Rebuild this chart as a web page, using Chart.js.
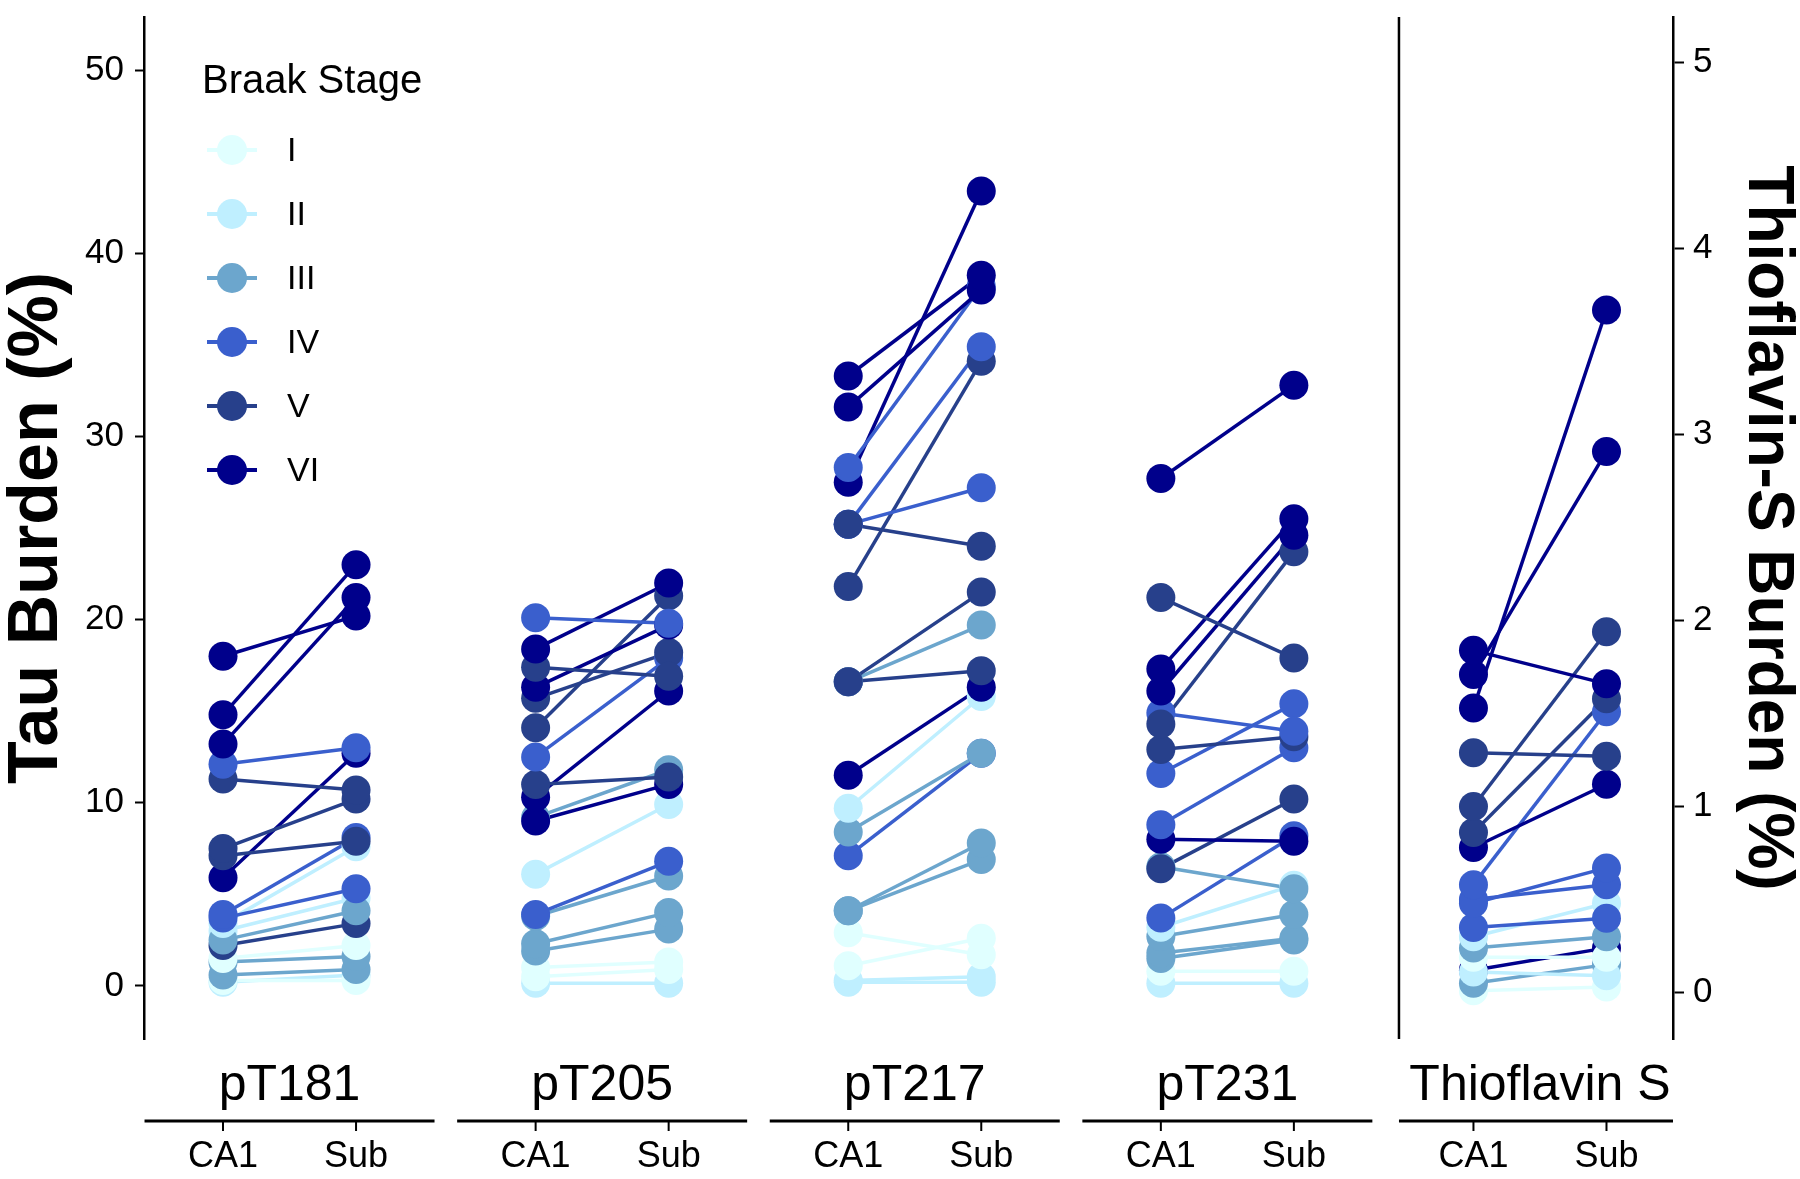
<!DOCTYPE html>
<html>
<head>
<meta charset="utf-8">
<script src="https://cdn.jsdelivr.net/npm/chart.js@4.4.1/dist/chart.umd.min.js"></script>
<style>
  html, body { margin: 0; padding: 0; background: #fff; }
  #wrap { width: 1800px; height: 1179px; }
</style>
</head>
<body>
<div id="wrap"><canvas id="chart" width="1800" height="1179"></canvas></div>
<script>
// Braak stage colour scale
const stages = ['I', 'II', 'III', 'IV', 'V', 'VI'];
const stageColors = ['#E0FFFF', '#BFEFFF', '#6CA6CD', '#3A5FCD', '#27408B', '#00008B'];

const groupNames = ['pT181', 'pT205', 'pT217', 'pT231', 'Thioflavin S'];
const regions = ['CA1', 'Sub'];
const tauTicks = [0, 10, 20, 30, 40, 50];
const thsTicks = [0, 1, 2, 3, 4, 5];

// one entry per case: stage, burden in CA1, burden in subiculum
const pT181Stage = ['VI', 'VI', 'VI', 'IV', 'V', 'V', 'V', 'VI', 'IV', 'IV', 'II', 'III', 'V', 'II', 'I', 'III', 'III', 'I', 'II'];
const pT181CA1 = [18.0, 14.8, 13.2, 12.1, 11.3, 7.5, 7.1, 5.9, 3.9, 3.7, 3.4, 2.5, 2.2, 3.0, 1.5, 1.3, 0.6, 0.3, 0.2];
const pT181Sub = [20.2, 23.0, 21.2, 13.0, 10.7, 10.2, 7.9, 12.7, 8.1, 5.3, 7.6, 4.1, 3.4, 4.8, 2.2, 1.6, 0.9, 0.3, 0.6];

const pT205Stage = ['IV', 'VI', 'V', 'VI', 'V', 'V', 'IV', 'V', 'VI', 'VI', 'III', 'II', 'IV', 'III', 'III', 'III', 'I', 'I', 'II'];
const pT205CA1 = [20.1, 18.4, 17.4, 16.3, 15.7, 14.1, 12.5, 11.0, 10.3, 9.0, 9.2, 6.1, 3.9, 3.8, 2.3, 1.9, 1.0, 0.5, 0.15];
const pT205Sub = [19.8, 22.0, 16.9, 19.7, 18.2, 21.3, 17.9, 11.4, 16.1, 11.0, 11.8, 9.9, 6.8, 6.0, 4.0, 3.1, 1.3, 0.9, 0.15];

const pT217Stage = ['VI', 'VI', 'IV', 'VI', 'V', 'IV', 'IV', 'V', 'V', 'III', 'V', 'VI', 'II', 'III', 'IV', 'III', 'III', 'I', 'I', 'II', 'II'];
const pT217CA1 = [33.3, 31.6, 28.3, 27.5, 25.2, 25.2, 25.2, 21.8, 16.6, 16.6, 16.6, 11.5, 9.7, 8.4, 7.1, 4.1, 4.1, 2.9, 1.1, 0.2, 0.3];
const pT217Sub = [38.8, 38.0, 38.2, 43.4, 24.0, 34.9, 27.2, 34.1, 21.5, 19.7, 17.2, 16.3, 15.8, 12.7, 12.7, 7.8, 6.9, 1.7, 2.6, 0.2, 0.5];

const pT231Stage = ['VI', 'V', 'VI', 'VI', 'V', 'IV', 'V', 'IV', 'IV', 'VI', 'V', 'III', 'IV', 'II', 'III', 'III', 'III', 'I', 'II'];
const pT231CA1 = [27.7, 21.2, 17.3, 16.1, 14.3, 14.9, 12.9, 11.6, 8.8, 8.0, 6.4, 6.5, 3.7, 3.2, 2.7, 1.8, 1.5, 0.8, 0.15];
const pT231Sub = [32.8, 17.9, 25.5, 24.6, 23.7, 13.9, 13.6, 15.4, 13.0, 7.9, 10.2, 5.3, 8.2, 5.5, 3.9, 2.6, 2.5, 0.8, 0.15];

const thsStage = ['VI', 'VI', 'VI', 'V', 'V', 'V', 'VI', 'IV', 'IV', 'IV', 'IV', 'II', 'III', 'I', 'II', 'III', 'I', 'VI'];
const thsCA1 = [1.84, 1.71, 1.53, 1.29, 1.00, 0.86, 0.78, 0.58, 0.48, 0.50, 0.35, 0.30, 0.24, 0.19, 0.11, 0.05, 0.01, 0.12];
const thsSub = [1.66, 2.91, 3.67, 1.27, 1.94, 1.58, 1.12, 1.51, 0.67, 0.58, 0.40, 0.48, 0.30, 0.19, 0.09, 0.15, 0.03, 0.24];

// layout of the x axis: CA1 at g * GROUP_GAP, Sub one unit to the right
const GROUP_GAP = 2.35;
const X_MIN = -0.594;
const X_MAX = 10.9;
const DIVIDER_X = 4 * GROUP_GAP - 0.56;

const FONT = '"Liberation Sans", Arial, Helvetica, sans-serif';

const groups = [
    { stage: pT181Stage, ca1: pT181CA1, sub: pT181Sub, axis: 'y' },
    { stage: pT205Stage, ca1: pT205CA1, sub: pT205Sub, axis: 'y' },
    { stage: pT217Stage, ca1: pT217CA1, sub: pT217Sub, axis: 'y' },
    { stage: pT231Stage, ca1: pT231CA1, sub: pT231Sub, axis: 'y' },
    { stage: thsStage, ca1: thsCA1, sub: thsSub, axis: 'y2' }
];

function colorOf(stage) {
    return stageColors[stages.indexOf(stage)];
}

function buildDatasets() {
    const datasets = [];
    groups.forEach((grp, g) => {
        const xCA1 = g * GROUP_GAP;
        const xSub = g * GROUP_GAP + 1;
        // lines first (drawn underneath)
        grp.stage.forEach((st, i) => {
            datasets.push({
                type: 'line',
                data: [{ x: xCA1, y: grp.ca1[i] }, { x: xSub, y: grp.sub[i] }],
                borderColor: colorOf(st),
                borderWidth: 3.5,
                pointRadius: 0,
                yAxisID: grp.axis,
                order: 2
            });
        });
        // points drawn from the end of the list back, so earlier cases sit on top
        const pts = [];
        const cols = [];
        for (let i = grp.stage.length - 1; i >= 0; i--) {
            pts.push({ x: xCA1, y: grp.ca1[i] });
            cols.push(colorOf(grp.stage[i]));
            pts.push({ x: xSub, y: grp.sub[i] });
            cols.push(colorOf(grp.stage[i]));
        }
        datasets.push({
            type: 'scatter',
            data: pts,
            showLine: false,
            pointRadius: 14.5,
            pointBackgroundColor: cols,
            pointBorderWidth: 0,
            yAxisID: grp.axis,
            order: 1
        });
    });
    return datasets;
}

const decorPlugin = {
    id: 'decor',
    afterDraw(chart) {
        const ctx = chart.ctx;
        const xs = chart.scales.x;
        const area = chart.chartArea;
        ctx.save();
        ctx.strokeStyle = '#000';
        ctx.fillStyle = '#000';

        // divider before the Thioflavin S panel
        const dx = xs.getPixelForValue(DIVIDER_X);
        ctx.lineWidth = 2.5;
        ctx.beginPath();
        ctx.moveTo(dx, area.top);
        ctx.lineTo(dx, area.bottom);
        ctx.stroke();

        // group labels, brackets and region labels
        groupNames.forEach((name, g) => {
            const x1 = xs.getPixelForValue(g * GROUP_GAP);
            const x2 = xs.getPixelForValue(g * GROUP_GAP + 1);
            const cx = (x1 + x2) / 2;
            ctx.font = '50px ' + FONT;
            ctx.textAlign = 'center';
            ctx.textBaseline = 'alphabetic';
            ctx.fillText(name, cx, area.bottom + 61);

            let left = cx - 145;
            let right = cx + 145;
            if (g === groupNames.length - 1) {
                left = Math.max(left, dx);
                right = Math.min(right, area.right);
            }
            const ly = area.bottom + 82;
            ctx.lineWidth = 3;
            ctx.beginPath();
            ctx.moveTo(left, ly);
            ctx.lineTo(right, ly);
            ctx.stroke();

            ctx.lineWidth = 2;
            ctx.font = '36px ' + FONT;
            [x1, x2].forEach((px, r) => {
                ctx.beginPath();
                ctx.moveTo(px, ly);
                ctx.lineTo(px, ly + 10);
                ctx.stroke();
                ctx.fillText(regions[r], px, area.bottom + 128);
            });
        });

        // legend
        const lx = area.left + 58;
        ctx.textAlign = 'left';
        ctx.font = '40px ' + FONT;
        ctx.fillText('Braak Stage', lx, area.top + 76);
        ctx.font = '34px ' + FONT;
        ctx.textBaseline = 'middle';
        stages.forEach((st, i) => {
            const y = area.top + 133 + i * 64;
            const cxl = area.left + 88;
            ctx.strokeStyle = stageColors[i];
            ctx.lineWidth = 4;
            ctx.beginPath();
            ctx.moveTo(cxl - 25, y);
            ctx.lineTo(cxl + 25, y);
            ctx.stroke();
            ctx.fillStyle = stageColors[i];
            ctx.beginPath();
            ctx.arc(cxl, y, 15, 0, Math.PI * 2);
            ctx.fill();
            ctx.fillStyle = '#000';
            ctx.fillText(st, area.left + 143, y + 2);
        });
        ctx.restore();
    }
};

function fixWidth(w) {
    return function (scale) {
        scale.width = w;
        scale.paddingTop = 0;
        scale.paddingBottom = 0;
    };
}

new Chart(document.getElementById('chart'), {
    type: 'line',
    data: { datasets: buildDatasets() },
    options: {
        responsive: false,
        animation: false,
        layout: { padding: { top: 17, bottom: 140, left: 0, right: 0 } },
        plugins: {
            legend: { display: false },
            tooltip: { enabled: false }
        },
        scales: {
            x: {
                type: 'linear',
                min: X_MIN,
                max: X_MAX,
                display: false
            },
            y: {
                type: 'linear',
                position: 'left',
                min: -2.9,
                max: 52.9,
                afterBuildTicks: s => { s.ticks = tauTicks.map(v => ({ value: v })); },
                afterFit: fixWidth(144),
                border: { color: '#000', width: 2.5 },
                grid: { drawOnChartArea: false, tickLength: 9, tickWidth: 2, tickColor: '#000' },
                ticks: { color: '#000', padding: 11, font: { family: FONT, size: 35 } },
                title: {
                    display: true,
                    text: 'Tau Burden (%)',
                    color: '#000',
                    padding: { top: 3, bottom: 0 },
                    font: { family: FONT, size: 70, weight: 'bold', lineHeight: 1 }
                }
            },
            y2: {
                type: 'linear',
                position: 'right',
                min: -0.25,
                max: 5.246,
                afterBuildTicks: s => { s.ticks = thsTicks.map(v => ({ value: v })); },
                afterFit: fixWidth(127),
                border: { color: '#000', width: 2.5 },
                grid: { drawOnChartArea: false, tickLength: 11, tickWidth: 2, tickColor: '#000' },
                ticks: { color: '#000', padding: 9, font: { family: FONT, size: 35 } },
                title: {
                    display: true,
                    text: 'Thioflavin-S Burden (%)',
                    color: '#000',
                    padding: { top: 1, bottom: 0 },
                    font: { family: FONT, size: 64, weight: 'bold', lineHeight: 1 }
                }
            }
        }
    },
    plugins: [decorPlugin]
});
</script>
</body>
</html>
